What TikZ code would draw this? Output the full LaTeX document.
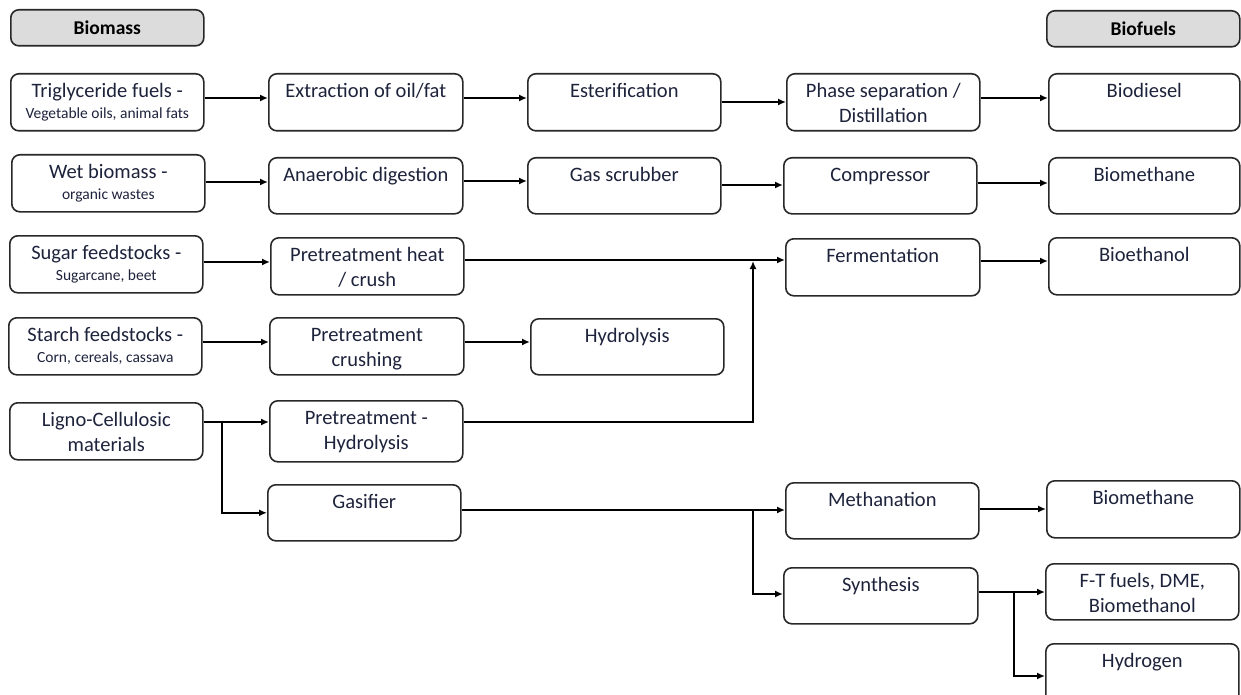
\documentclass[tikz,border=0pt]{standalone}
\usepackage{fontspec}
\setmainfont{Carlito}
\usetikzlibrary{arrows.meta}
\definecolor{txt}{RGB}{30,35,60}
\definecolor{hdrfill}{RGB}{220,220,220}
\definecolor{edge}{RGB}{40,40,40}
\newcommand\maintxt{\fontsize{20.5}{25}\selectfont}
\newcommand\subtxt[1]{\par{\fontsize{15.5}{21}\selectfont #1\par}}
\newcommand\bx[6]{\node[box, anchor=north west] (#1) at (#2,#3) {\parbox[c][#5pt][t]{#4pt}{\centering\maintxt\vspace*{6.5pt}\strut #6\par}};}
\newcommand\harr[3]{\draw[arr] (#1.east |- 0,#3) -- (#2.west |- 0,#3);}
\begin{document}
\begin{tikzpicture}[x=1pt,y=-1pt,
  box/.style={draw=edge, line width=1.6pt, rounded corners=8pt, fill=white, inner sep=0pt, text=txt},
  hdr/.style={draw=edge, line width=1.6pt, rounded corners=8pt, fill=hdrfill, inner sep=0pt,
    minimum width=193pt, minimum height=36pt, anchor=north west, font=\fontsize{19.5}{23}\selectfont\bfseries},
  arr/.style={line width=2.2pt, -{Latex[length=8pt,width=7pt]}},
  conn/.style={line width=2.2pt}]
\useasboundingbox (0,0) rectangle (1241,695);
\clip (0,0) rectangle (1241,695);
% headers
\node[hdr] (biomass) at (10,9) {Biomass};
\node[hdr] (biofuels) at (1046,10) {Biofuels};
% row 1
\bx{trig}{10}{73}{193}{57}{Triglyceride fuels -\subtxt{Vegetable oils, animal fats}}
\bx{extr}{268}{73}{194}{57}{Extraction of oil/fat}
\bx{ester}{527}{73}{193}{57}{Esterification}
\bx{phase}{786}{73}{193}{57}{Phase separation /\\ Distillation}
\bx{biodiesel}{1048}{73}{191}{57}{Biodiesel}
% row 2
\bx{wet}{11}{154}{193}{57}{Wet biomass -\subtxt{organic wastes}}
\bx{anaer}{268}{157}{194}{56}{Anaerobic digestion}
\bx{scrub}{527}{157}{193}{56}{Gas scrubber}
\bx{compr}{783}{157}{193}{56}{Compressor}
\bx{biometh}{1048}{157}{191}{56}{Biomethane}
% row 3
\bx{sugar}{9}{235}{193}{57}{Sugar feedstocks -\subtxt{Sugarcane, beet}}
\bx{preheat}{270}{237}{193}{57}{Pretreatment heat\\ / crush}
\bx{ferm}{785}{238}{194}{57}{Fermentation}
\bx{bioeth}{1048}{237}{191}{57}{Bioethanol}
% row 4
\bx{starch}{8}{317}{193}{57}{Starch feedstocks -\subtxt{Corn, cereals, cassava}}
\bx{precrush}{269}{317}{194}{57}{Pretreatment\\ crushing}
\bx{hydrol}{530}{318}{193}{56}{Hydrolysis}
% row 5
\bx{ligno}{9}{402}{193}{57}{Ligno-Cellulosic\\ materials}
\bx{prehyd}{269}{400}{193}{61}{Pretreatment -\\ Hydrolysis}
% gasification branch
\bx{gasif}{267}{484}{193}{56}{Gasifier}
\bx{methan}{785}{482}{193}{56}{Methanation}
\bx{synth}{783}{567}{194}{56}{Synthesis}
\bx{biometh2}{1046}{480}{193}{57}{Biomethane}
\bx{ft}{1045}{563}{193}{56}{F-T fuels, DME,\\ Biomethanol}
\bx{hydrogen}{1045}{643}{193}{62}{Hydrogen}
% junction coordinates
\coordinate (j1) at (753,261);
\coordinate (j2) at (222,422);
\coordinate (j3) at (753,510);
\coordinate (j4) at (1014,592);
% arrows
\harr{trig}{extr}{98}
\harr{extr}{ester}{98}
\harr{ester}{phase}{102}
\harr{phase}{biodiesel}{98}
\harr{wet}{anaer}{182}
\harr{anaer}{scrub}{181}
\harr{scrub}{compr}{185}
\harr{compr}{biometh}{183}
\harr{sugar}{preheat}{262}
\harr{preheat}{ferm}{260}
\harr{ferm}{bioeth}{261}
\harr{starch}{precrush}{342}
\harr{precrush}{hydrol}{342}
\harr{ligno}{prehyd}{422}
\draw[arr] (j2) |- (gasif.west);
\draw[arr] (prehyd.east |- 0,422) -| (j1);
\harr{gasif}{methan}{510}
\draw[arr] (j3) |- (synth.west |- 0,594);
\harr{methan}{biometh2}{509}
\harr{synth}{ft}{592}
\draw[arr] (j4) |- (hydrogen.west |- 0,676);
\end{tikzpicture}
\end{document}
